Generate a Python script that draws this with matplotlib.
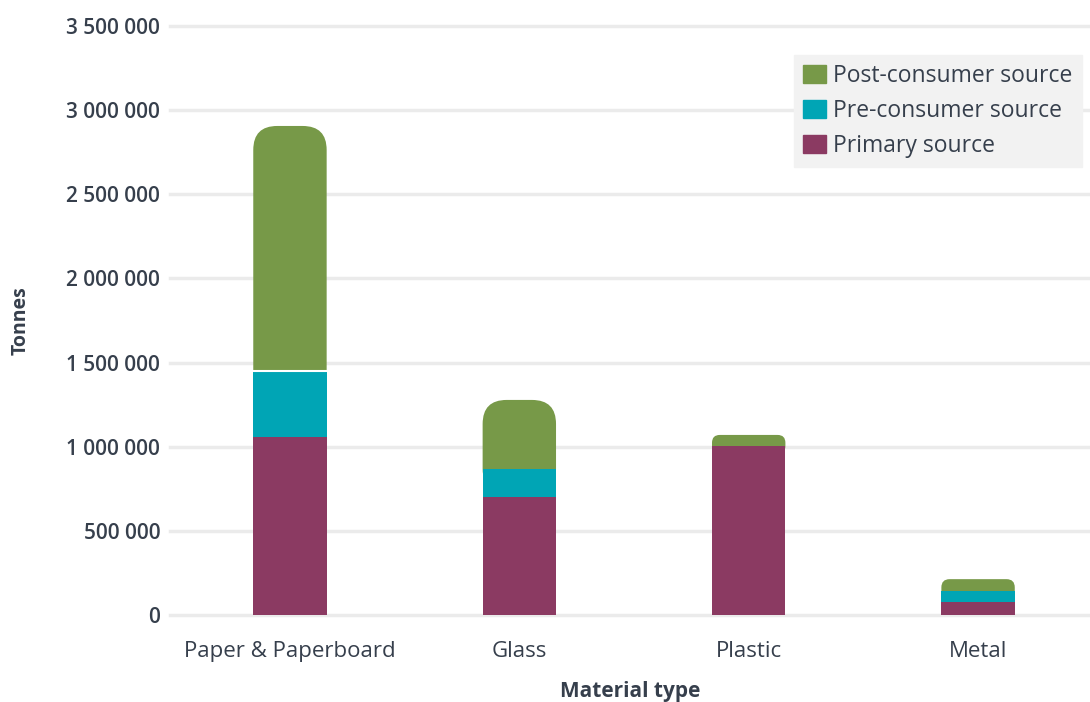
import numpy as np
import matplotlib.pyplot as plt
from matplotlib.patches import FancyBboxPatch, Patch

categories = ['Paper & Paperboard', 'Glass', 'Plastic', 'Metal']
primary = [1058000, 701000, 1004000, 75000]
pre_consumer = [392000, 167000, 0, 68000]
post_consumer = [1456000, 410000, 66000, 70000]
yticks = [0, 500000, 1000000, 1500000, 2000000, 2500000, 3000000, 3500000]

c_primary = '#8b3a62'
c_pre = '#00a5b5'
c_post = '#779948'
txt = '#363f4c'

plt.rcParams['font.family'] = ['Open Sans', 'DejaVu Sans']

fig = plt.figure(figsize=(10.9, 7.02), dpi=100)
ax = fig.add_axes([170/1090, 87/702, 920/1090, 589/702])
x = np.arange(len(categories))
width = 0.32
ax.set_xlim(-0.523, 3.488)
ax.set_ylim(0, 3500000)

ax.bar(x, primary, width, color=c_primary, zorder=3)
ax.bar(x, pre_consumer, width, bottom=primary, color=c_pre, zorder=3)

# rounded top segment (post-consumer)
fig.canvas.draw()
p0 = ax.transData.transform((0, 0))
p1 = ax.transData.transform((1, 1000000))
px_x = p1[0] - p0[0]          # pixels per x unit
px_y = (p1[1] - p0[1]) / 1e6  # pixels per tonne
aspect = px_x / px_y
base = np.array(primary) + np.array(pre_consumer)
for i in range(len(categories)):
    h = post_consumer[i]
    hpx = h * px_y
    r_px = min(24, 0.7 * hpx)
    r = r_px / px_x
    ext = r * aspect
    box = FancyBboxPatch((x[i] - width/2, base[i] - ext), width, h + ext,
                         boxstyle=f'round,pad=0,rounding_size={r}',
                         mutation_aspect=aspect, facecolor=c_post,
                         edgecolor='none', zorder=2)
    ax.add_patch(box)
# thin white separator on the paper bar
ax.plot([x[0] - width/2, x[0] + width/2], [base[0], base[0]], color='white', lw=1.5, zorder=4)

ax.set_yticks(yticks)
ax.set_yticklabels(['{:,}'.format(v).replace(',', ' ') for v in yticks])
ax.set_xticks(x)
ax.set_xticklabels(categories)
ax.tick_params(axis='y', length=0, pad=7, labelsize=15, labelcolor=txt)
ax.tick_params(axis='x', length=0, pad=19, labelsize=16, labelcolor=txt)
for lab in ax.get_yticklabels():
    lab.set_fontweight('semibold')
ax.grid(axis='y', color='#ebebeb', lw=2.5, zorder=0)
for s in ax.spines.values():
    s.set_visible(False)
ax.set_axisbelow(True)
for gl in ax.get_ygridlines():
    gl.set_clip_on(False)

ax.set_xlabel('Material type', fontsize=15, fontweight='bold', color=txt)
ax.xaxis.set_label_coords(0.5, -66/589)
ax.set_ylabel('Tonnes', fontsize=14, fontweight='bold', color=txt)
ax.yaxis.set_label_coords(-139/920, 0.5)

handles = [Patch(color=c_post), Patch(color=c_pre), Patch(color=c_primary)]
leg = ax.legend(handles, ['Post-consumer source', 'Pre-consumer source', 'Primary source'],
                loc='upper right', bbox_to_anchor=(0.991, 0.951), borderaxespad=0,
                fontsize=16.5, frameon=True, fancybox=False,
                facecolor='#f2f2f2', edgecolor='#f2f2f2',
                handlelength=1.0, handleheight=0.8, handletextpad=0.3,
                labelspacing=0.48, borderpad=0.4, labelcolor=txt)
leg.get_frame().set_alpha(1)

fig.savefig('out.png', dpi=100)
